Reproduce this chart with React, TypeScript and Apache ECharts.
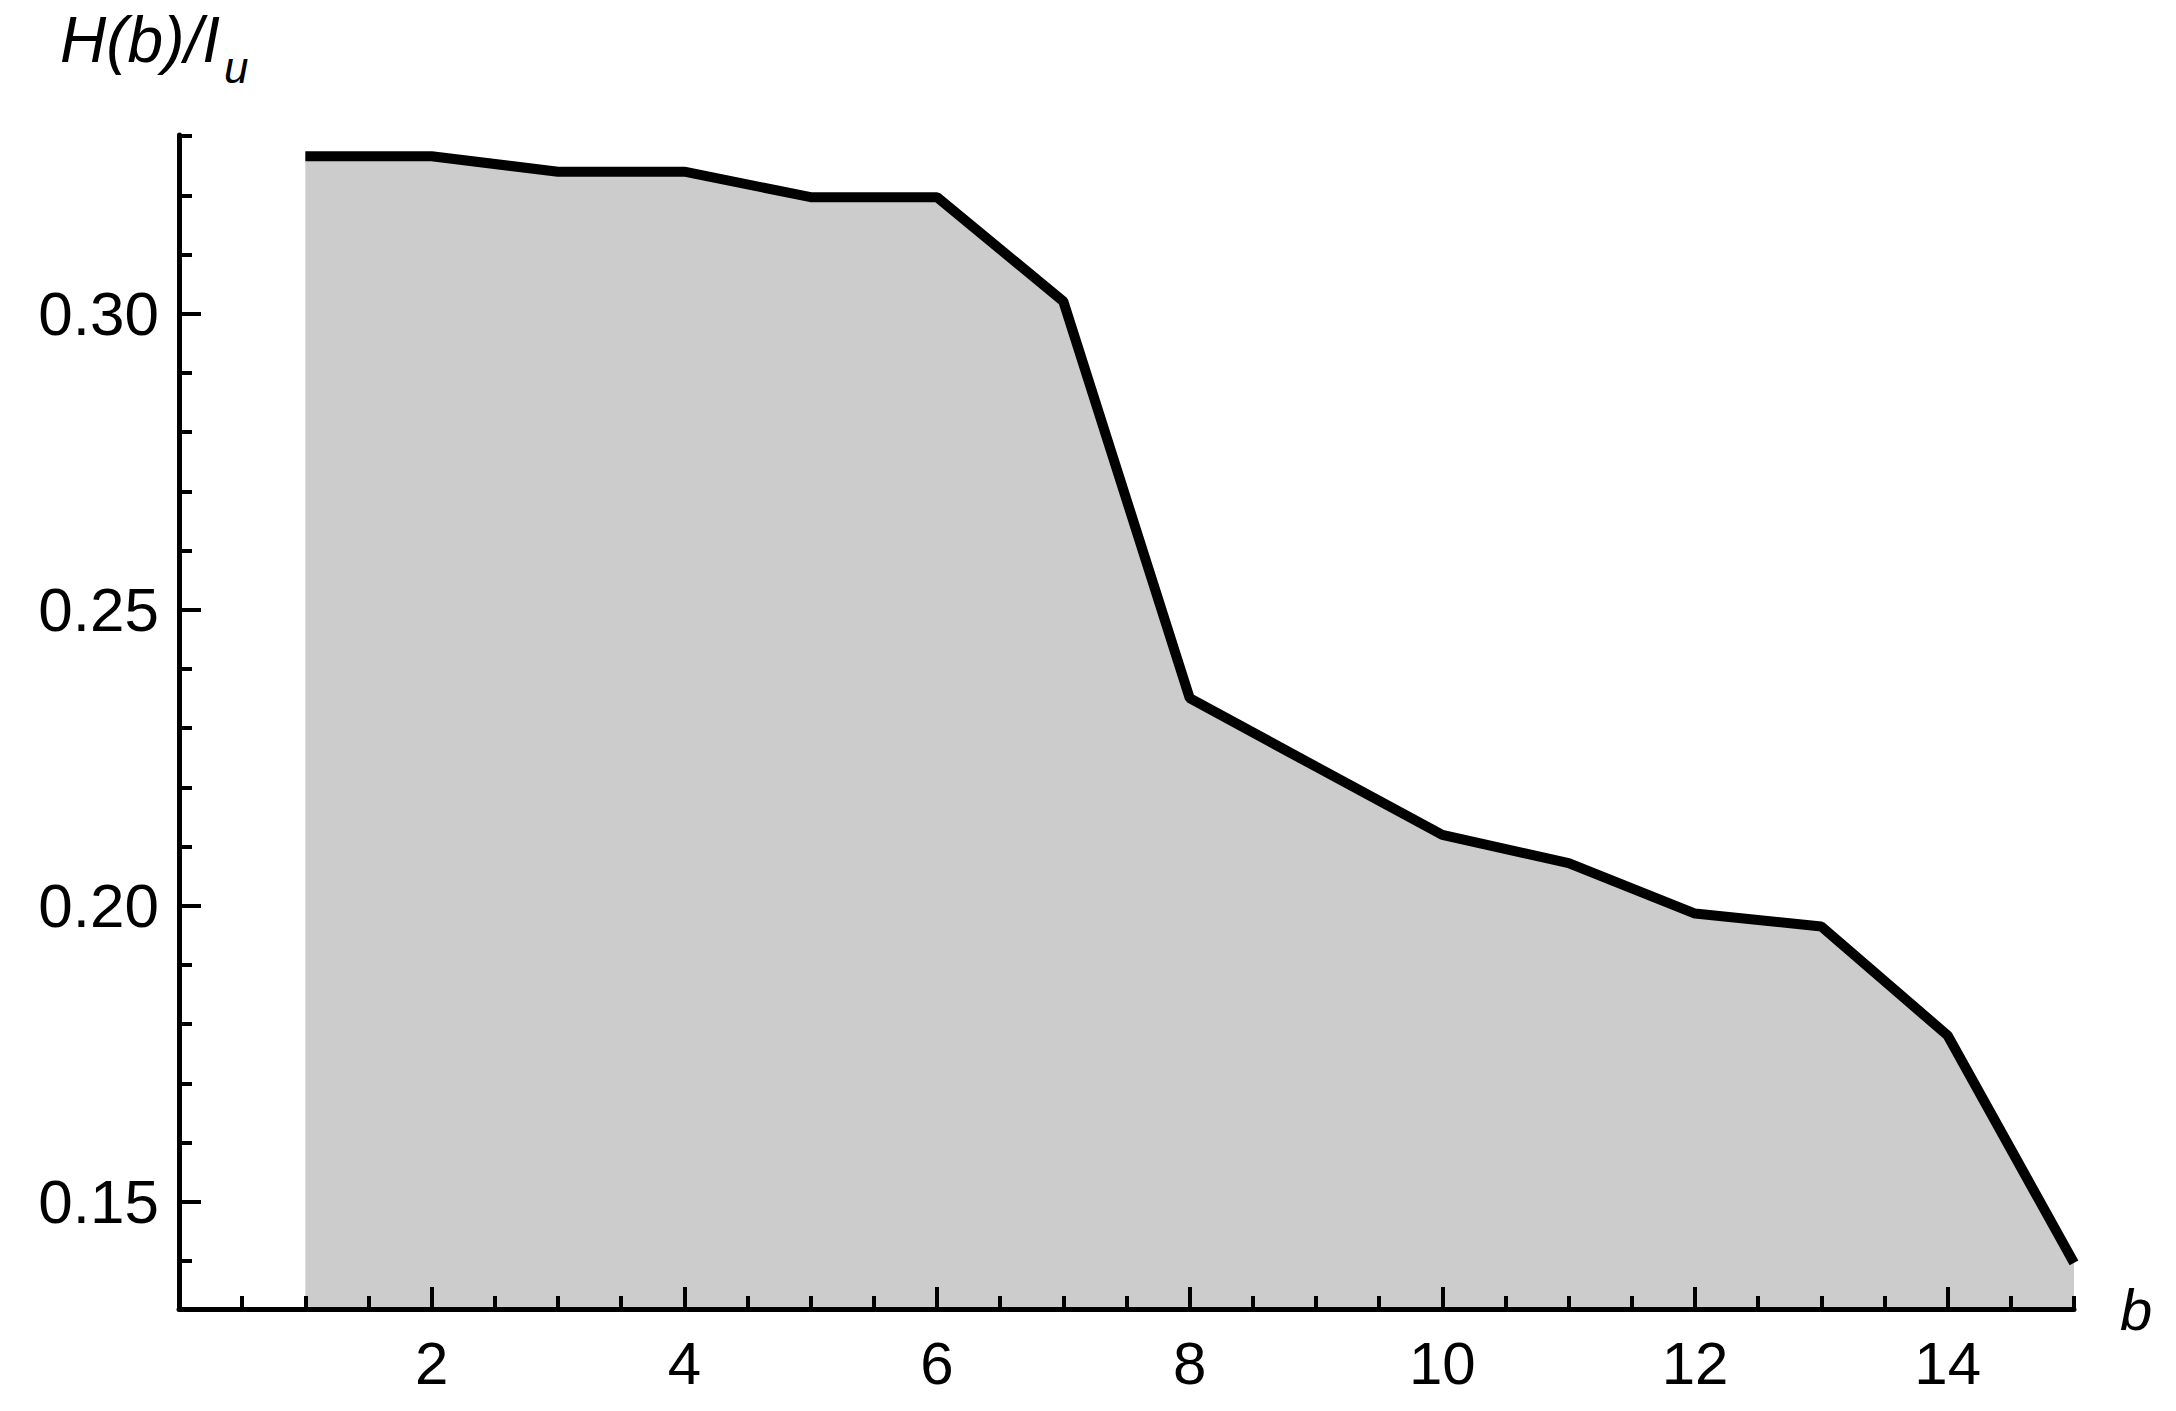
import React, { useEffect, useRef } from 'react';
import * as echarts from 'echarts';

// b values and H(b)/I_u values
const bValues = [1, 2, 3, 4, 5, 6, 7, 8, 9, 10, 11, 12, 13, 14, 15];
const hValues = [0.3266, 0.3266, 0.324, 0.324, 0.3197, 0.3197, 0.3021, 0.2351, 0.2235, 0.212, 0.2072, 0.1987, 0.1965, 0.1781, 0.1397];

// tick positions and labels
const xMajorTicks = [2, 4, 6, 8, 10, 12, 14];
const xMinorTicks = [0.5, 1, 1.5, 2.5, 3, 3.5, 4.5, 5, 5.5, 6.5, 7, 7.5, 8.5, 9, 9.5, 10.5, 11, 11.5, 12.5, 13, 13.5, 14.5, 15];
const yMajorTicks = [0.15, 0.2, 0.25, 0.3];
const yMinorTicks = [0.14, 0.16, 0.17, 0.18, 0.19, 0.21, 0.22, 0.23, 0.24, 0.26, 0.27, 0.28, 0.29, 0.31, 0.32, 0.33];

const xMin = 0;
const xMax = 15;
const yMin = 0.1319;
const yMax = 0.3302;

const FONT = '"Liberation Sans", Arial, sans-serif';

export default function App() {
  const ref = useRef<HTMLDivElement>(null);

  useEffect(() => {
    if (!ref.current) return;
    const chart = echarts.init(ref.current, null, { renderer: 'svg' });
    const axisColor = '#000';
    const option: any = {
      animation: false,
      backgroundColor: '#fff',
      grid: { left: 179, right: 102, top: 135, bottom: 102, containLabel: false },
      xAxis: [
        {
          type: 'value',
          min: xMin,
          max: xMax,
          position: 'bottom',
          z: 10,
          name: 'b',
          nameLocation: 'end',
          nameGap: 46,
          nameTextStyle: {
            fontFamily: FONT,
            fontStyle: 'italic',
            fontSize: 58,
            color: '#000',
            padding: [0, 0, 22, 0],
          },
          axisLine: { show: true, lineStyle: { color: axisColor, width: 5 } },
          axisTick: {
            show: true,
            inside: true,
            length: 22,
            customValues: xMajorTicks,
            lineStyle: { color: axisColor, width: 4 },
          },
          axisLabel: {
            show: true,
            customValues: xMajorTicks,
            margin: 24,
            fontFamily: FONT,
            fontSize: 60,
            color: '#000',
            formatter: (v: number) => String(v),
          },
          splitLine: { show: false },
        },
        {
          type: 'value',
          min: xMin,
          max: xMax,
          position: 'bottom',
          z: 10,
          axisLine: { show: false },
          axisTick: {
            show: true,
            inside: true,
            length: 13,
            customValues: xMinorTicks,
            lineStyle: { color: axisColor, width: 4 },
          },
          axisLabel: { show: false },
          splitLine: { show: false },
        },
      ],
      yAxis: [
        {
          type: 'value',
          min: yMin,
          max: yMax,
          position: 'left',
          z: 10,
          axisLine: { show: true, lineStyle: { color: axisColor, width: 5 } },
          axisTick: {
            show: true,
            inside: true,
            length: 22,
            customValues: yMajorTicks,
            lineStyle: { color: axisColor, width: 4 },
          },
          axisLabel: {
            show: true,
            customValues: yMajorTicks,
            margin: 20,
            fontFamily: FONT,
            fontSize: 62,
            color: '#000',
            formatter: (v: number) => v.toFixed(2),
          },
          splitLine: { show: false },
        },
        {
          type: 'value',
          min: yMin,
          max: yMax,
          position: 'left',
          z: 10,
          axisLine: { show: false },
          axisTick: {
            show: true,
            inside: true,
            length: 13,
            customValues: yMinorTicks,
            lineStyle: { color: axisColor, width: 4 },
          },
          axisLabel: { show: false },
          splitLine: { show: false },
        },
      ],
      graphic: [
        {
          type: 'text',
          x: 60,
          y: 40,
          z: 20,
          style: {
            text: 'H(b)/I',
            fontFamily: FONT,
            fontStyle: 'italic',
            fontSize: 64,
            fill: '#000',
            verticalAlign: 'middle',
            align: 'left',
          },
        },
        {
          type: 'text',
          x: 224,
          y: 67,
          z: 20,
          style: {
            text: 'u',
            fontFamily: FONT,
            fontStyle: 'italic',
            fontSize: 44,
            fill: '#000',
            verticalAlign: 'middle',
            align: 'left',
          },
        },
      ],
      series: [
        {
          type: 'line',
          xAxisIndex: 0,
          yAxisIndex: 0,
          data: bValues.map((b, i) => [b, hValues[i]]),
          showSymbol: false,
          symbol: 'none',
          z: 2,
          lineStyle: { color: '#000', width: 10 },
          areaStyle: { color: '#cccccc', opacity: 1, origin: 'start' },
        },
      ],
    };
    chart.setOption(option);
    return () => chart.dispose();
  }, []);

  return (
    <div
      ref={ref}
      style={{ position: 'absolute', left: 0, top: 0, width: 2176, height: 1411, background: '#fff' }}
    />
  );
}
